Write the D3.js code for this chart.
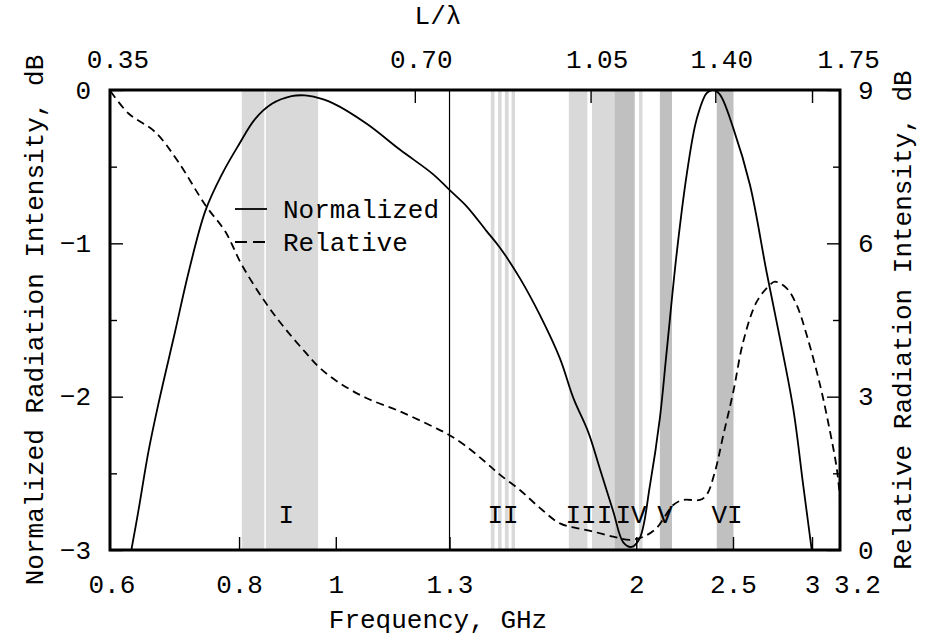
<!DOCTYPE html>
<html>
<head>
<meta charset="utf-8">
<script src="https://cdn.jsdelivr.net/npm/d3@7"></script>
<style>
body { margin: 0; background: #fff; }
text { font-family: "Liberation Mono", "DejaVu Sans Mono", monospace; font-size: 26px; fill: #000; }
</style>
</head>
<body>
<div id="chart"></div>
<script>
// tick values
var freqTicks = [0.6, 0.8, 1, 1.3, 2, 2.5, 3, 3.2];
var ratioTicks = [0.35, 0.70, 1.05, 1.40, 1.75];
var normTicks = [0, -1, -2, -3];
var normMinor = [-0.5, -1.5, -2.5];
var relTicks = [0, 3, 6, 9];
var relMinor = [1.5, 4.5, 7.5];

// normalized radiation intensity (dB) vs frequency (GHz)
var freqNorm = [0.624, 0.634, 0.649, 0.664, 0.690, 0.712, 0.740, 0.769, 0.799, 0.830,
  0.863, 0.903, 0.931, 0.950, 0.994, 1.074, 1.160, 1.252, 1.299, 1.353,
  1.416, 1.461, 1.530, 1.602, 1.677, 1.730, 1.790, 1.839, 1.897, 1.941,
  1.979, 2.017, 2.064, 2.112, 2.145, 2.196, 2.247, 2.299, 2.353, 2.389,
  2.426, 2.502, 2.600, 2.702, 2.786, 2.873, 2.940, 2.998];
var normDb = [-3.0, -2.75, -2.36, -2.05, -1.58, -1.19, -0.79, -0.55, -0.36, -0.19,
  -0.09, -0.04, -0.035, -0.044, -0.087, -0.22, -0.39, -0.55, -0.65, -0.76,
  -0.92, -1.03, -1.23, -1.47, -1.75, -2.01, -2.23, -2.47, -2.75, -2.95,
  -2.98, -2.92, -2.58, -2.14, -1.71, -1.06, -0.55, -0.19, -0.02, 0.0,
  -0.03, -0.25, -0.62, -1.19, -1.62, -2.08, -2.58, -3.0];

// relative radiation intensity (dB) vs frequency (GHz)
var freqRel = [0.595, 0.620, 0.659, 0.695, 0.740, 0.775, 0.805, 0.849, 0.889, 0.931,
  0.964, 1.010, 1.074, 1.160, 1.252, 1.299, 1.353, 1.416, 1.461, 1.530,
  1.602, 1.677, 1.743, 1.811, 1.897, 1.971, 2.033, 2.096, 2.178, 2.229,
  2.317, 2.353, 2.398, 2.445, 2.502, 2.560, 2.641, 2.723, 2.754, 2.830,
  2.896, 2.963, 3.056, 3.127, 3.176, 3.2];
var relDb = [8.97, 8.54, 8.18, 7.60, 6.75, 6.23, 5.58, 4.86, 4.34, 3.88,
  3.56, 3.26, 2.97, 2.71, 2.41, 2.25, 2.02, 1.70, 1.47, 1.17,
  0.82, 0.52, 0.43, 0.36, 0.26, 0.20, 0.26, 0.43, 0.88, 0.98,
  0.98, 1.08, 1.53, 2.25, 3.10, 4.08, 4.86, 5.19, 5.25, 5.12,
  4.79, 4.21, 3.23, 2.32, 1.60, 1.01];

// frequency bands (GHz)
var lightBands = [[0.805, 0.848], [0.851, 0.960], [1.430, 1.442], [1.454, 1.466],
  [1.477, 1.490], [1.500, 1.512], [1.712, 1.787], [1.806, 1.902], [2.013, 2.029]];
var darkBands = [[1.902, 1.993], [2.112, 2.172], [2.408, 2.503]];
var regionNames = ["I", "II", "III", "IV", "V", "VI"];
var regionFreq = [0.892, 1.471, 1.793, 1.976, 2.137, 2.466];
var markerFreq = 1.3;

var lengthRatio = 0.35 / 0.6; // L/lambda per GHz

(function(){
  var width = 926, height = 639;
  var pLeft = 110, pRight = 840, pTop = 90, pBottom = 550;

  var svg = d3.select("#chart").append("svg")
      .attr("width", width)
      .attr("height", height);

  var x = d3.scaleLog().domain([0.594, 3.2]).range([pLeft, pRight]);
  var x2 = d3.scaleLog().domain([0.594 * lengthRatio, 3.2 * lengthRatio]).range([pLeft, pRight]);
  var yL = d3.scaleLinear().domain([-3, 0]).range([pBottom, pTop]);
  var yR = d3.scaleLinear().domain([0, 9]).range([pBottom, pTop]);

  svg.append("clipPath").attr("id", "clip")
    .append("rect")
      .attr("x", pLeft).attr("y", pTop)
      .attr("width", pRight - pLeft).attr("height", pBottom - pTop);

  // bands
  var drawBands = function(list, color){
    svg.append("g").selectAll("rect")
      .data(list)
      .enter().append("rect")
        .attr("x", function(d){ return x(d[0]); })
        .attr("y", pTop)
        .attr("width", function(d){ return x(d[1]) - x(d[0]); })
        .attr("height", pBottom - pTop)
        .attr("fill", color);
  };
  drawBands(lightBands, "#d9d9d9");
  drawBands(darkBands, "#c0c0c0");

  svg.append("line")
      .attr("x1", x(markerFreq)).attr("x2", x(markerFreq))
      .attr("y1", pTop).attr("y2", pBottom)
      .attr("stroke", "#000")
      .attr("stroke-width", 1.2);

  svg.append("g").selectAll("text")
    .data(regionNames)
    .enter().append("text")
      .attr("x", function(d, i){ return x(regionFreq[i]); })
      .attr("y", 523)
      .attr("text-anchor", "middle")
      .text(function(d){ return d; });

  // curves
  var plot = svg.append("g").attr("clip-path", "url(#clip)");

  var normLine = d3.line()
      .x(function(d, i){ return x(freqNorm[i]); })
      .y(function(d){ return yL(d); })
      .curve(d3.curveCatmullRom.alpha(0.5));
  var relLine = d3.line()
      .x(function(d, i){ return x(freqRel[i]); })
      .y(function(d){ return yR(d); })
      .curve(d3.curveCatmullRom.alpha(0.5));

  plot.append("path")
      .attr("d", normLine(normDb))
      .attr("fill", "none")
      .attr("stroke", "#000")
      .attr("stroke-width", 1.8);
  plot.append("path")
      .attr("d", relLine(relDb))
      .attr("fill", "none")
      .attr("stroke", "#000")
      .attr("stroke-width", 1.8)
      .attr("stroke-dasharray", "8,5");

  // legend
  var legend = svg.append("g");
  legend.append("line")
      .attr("x1", 235).attr("x2", 267).attr("y1", 209).attr("y2", 209)
      .attr("stroke", "#000").attr("stroke-width", 1.8);
  legend.append("line")
      .attr("x1", 235).attr("x2", 267).attr("y1", 242).attr("y2", 242)
      .attr("stroke", "#000").attr("stroke-width", 1.8)
      .attr("stroke-dasharray", "12,6");
  legend.append("text").attr("x", 283).attr("y", 209).attr("dy", "0.35em").text("Normalized");
  legend.append("text").attr("x", 283).attr("y", 242).attr("dy", "0.35em").text("Relative");

  // axes
  var styleAxis = function(g){
    g.select(".domain").remove();
    g.selectAll(".tick line").attr("stroke", "#000").attr("stroke-width", 1.4);
    g.selectAll("text").attr("fill", "#000").style("font-size", "26px")
      .style("font-family", '"Liberation Mono", "DejaVu Sans Mono", monospace');
  };
  // edge ticks sit on the frame, keep only their labels
  var isEdge = function(d){ return d === 0.6 || d === 3.2 || d === 0.35; };

  var gBottom = svg.append("g")
      .attr("transform", "translate(0," + pBottom + ")")
      .call(d3.axisBottom(x).tickValues(freqTicks).tickSize(-13)
        .tickFormat(function(d){ return String(d); }))
      .call(styleAxis);
  gBottom.selectAll("text").attr("y", 43).attr("dy", 0);
  gBottom.selectAll("text").filter(function(d){ return d === 3.2; }).attr("dx", 17);
  gBottom.selectAll("text").filter(function(d){ return d === 0.6; }).attr("dx", -3);
  gBottom.selectAll(".tick line").filter(isEdge).remove();

  var gTop = svg.append("g")
      .attr("transform", "translate(0," + pTop + ")")
      .call(d3.axisTop(x2).tickValues(ratioTicks).tickSize(-13).tickFormat(d3.format(".2f")))
      .call(styleAxis);
  gTop.selectAll("text").attr("y", -22).attr("dy", 0).attr("dx", 6);
  gTop.selectAll("text").filter(function(d){ return d === 0.35; }).attr("dx", 3);
  gTop.selectAll("text").filter(function(d){ return d === 1.75; })
      .attr("text-anchor", "start").attr("dx", 5);
  gTop.selectAll(".tick line").filter(isEdge).remove();

  var gLeft = svg.append("g")
      .attr("transform", "translate(" + pLeft + ",0)")
      .call(d3.axisLeft(yL).tickValues(normTicks).tickSize(-13)
        .tickFormat(function(d){ return d === 0 ? "0" : "\u2212" + Math.abs(d); }))
      .call(styleAxis);
  gLeft.selectAll("text").attr("x", -19);
  svg.append("g")
      .attr("transform", "translate(" + pLeft + ",0)")
      .call(d3.axisLeft(yL).tickValues(normMinor).tickSize(-7).tickFormat(""))
      .call(styleAxis);

  var gRight = svg.append("g")
      .attr("transform", "translate(" + pRight + ",0)")
      .call(d3.axisRight(yR).tickValues(relTicks).tickSize(-13).tickFormat(d3.format("d")))
      .call(styleAxis);
  gRight.selectAll("text").attr("x", 18);
  svg.append("g")
      .attr("transform", "translate(" + pRight + ",0)")
      .call(d3.axisRight(yR).tickValues(relMinor).tickSize(-7).tickFormat(""))
      .call(styleAxis);

  // frame
  svg.append("rect")
      .attr("x", pLeft).attr("y", pTop)
      .attr("width", pRight - pLeft).attr("height", pBottom - pTop)
      .attr("fill", "none")
      .attr("stroke", "#000")
      .attr("stroke-width", 3);

  // titles
  svg.append("text").attr("x", 438).attr("y", 628).attr("text-anchor", "middle").text("Frequency, GHz");
  svg.append("text").attr("x", 438).attr("y", 24).attr("text-anchor", "middle").text("L/\u03bb");
  svg.append("text")
      .attr("transform", "translate(43," + ((pTop + pBottom) / 2) + ") rotate(-90)")
      .attr("text-anchor", "middle")
      .text("Normalized Radiation Intensity, dB");
  svg.append("text")
      .attr("transform", "translate(911," + ((pTop + pBottom) / 2) + ") rotate(-90)")
      .attr("text-anchor", "middle")
      .text("Relative Radiation Intensity, dB");
})();
</script>
</body>
</html>
